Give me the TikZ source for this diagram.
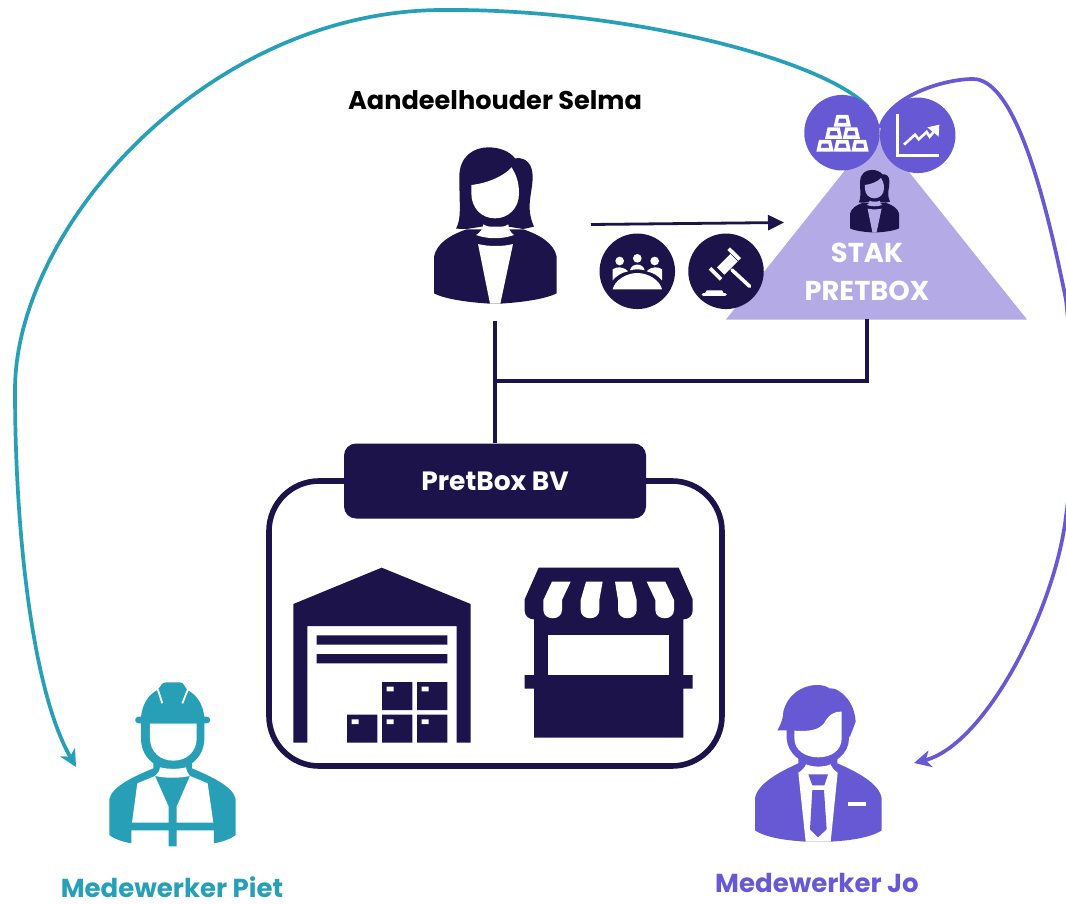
\documentclass[tikz,border=0pt]{standalone}
\usepackage{fontspec}
\setmainfont{Poppins}
\usetikzlibrary{arrows.meta}
\definecolor{navy}{HTML}{1B1349}
\definecolor{teal2}{HTML}{27A0B7}
\definecolor{violet2}{HTML}{6759D3}
\definecolor{lav}{HTML}{B4ABE6}
\newcommand{\selmaicon}[1]{%
  \fill[navy] (102,490) -- (102,380) .. controls (110,340) and (150,315) .. (200,298) -- (370,298) .. controls (420,315) and (462,340) .. (470,380) -- (470,490) .. controls (430,510) and (350,518) .. (300,521) -- (270,521) .. controls (220,518) and (140,510) .. (102,490) -- cycle;
  \fill[navy] (168,296) .. controls (185,265) and (178,230) .. (178,140) .. controls (178,80) and (220,52) .. (265,52) .. controls (300,52) and (330,65) .. (345,85) .. controls (380,80) and (398,105) .. (398,140) .. controls (398,190) and (375,230) .. (402,290) -- (370,297) -- (325,290) -- (245,290) -- (200,297) -- cycle;
  \fill[#1] (214,165) .. controls (260,160) and (310,140) .. (335,112) .. controls (345,130) and (357,150) .. (357,190) .. controls (357,235) and (325,265) .. (285,265) .. controls (245,265) and (214,235) .. (214,190) -- cycle;
  \fill[#1] (250,283) .. controls (270,296) and (305,296) .. (325,283) .. controls (326,298) and (332,308) .. (342,315) .. controls (305,328) and (265,328) .. (228,315) .. controls (240,308) and (248,298) .. (250,283) -- cycle;
  \fill[#1] (234,342) .. controls (265,350) and (310,350) .. (339,342) -- (301,521) -- (270,521) -- cycle;
}
\newcommand{\goldbar}[2]{%
  \fill[white,even odd rule] (#1+7,#2) -- (#1+43,#2) -- (#1+51,#2+35) -- (#1-1,#2+35) -- cycle
    (#1+15,#2+11) -- (#1+35,#2+11) -- (#1+38,#2+24) -- (#1+12,#2+24) -- cycle;
}
\tikzset{
  x=1pt,y=-1pt,
  dot/.style={circle,inner sep=0pt,minimum size=75.5pt},
  spot/.style={inner sep=0pt,minimum width=#1,minimum height=#1},
  caption/.style={font=\bfseries\fontsize{26}{30}\selectfont,inner sep=0pt},
  link/.style={navy,line width=4pt},
  curve/.style={line width=3.7pt,-{Stealth[length=17pt,width=17pt,inset=5pt]}},
}
\begin{document}
\begin{tikzpicture}
\useasboundingbox (0,0) rectangle (1066,904);
% arcs behind everything
\begin{scope}
\clip (0,0) rectangle (1066,904);
\coordinate (pietin) at (76,767);
\coordinate (joIn) at (914,763);
\coordinate (goldtop) at (868,107);
\coordinate (charttop) at (880,128);
\draw[curve,teal2] (goldtop) .. controls (822,58) and (620,8) .. (440,10) .. controls (206,12) and (15,228) .. (15,390) .. controls (15,530) and (32,690) .. (pietin);
\draw[curve,violet2] (charttop) .. controls (890,95) and (945,79) .. (973,79) .. controls (1010,79) and (1040,170) .. (1066,300) .. controls (1075,380) and (1075,450) .. (1066,516) .. controls (1055,610) and (985,745) .. (joIn);
\end{scope}
% triangle
\fill[lav] (726,319.5) -- (876.3,131) -- (1027,319.5) -- cycle;
\coordinate (stakbase) at (867,319);
% circles
\node[dot,fill=violet2] (gold) at (842,132.7) {};
\node[dot,fill=violet2] (chart) at (917.7,135.3) {};
\node[dot,fill=navy] (meet) at (637.3,271.3) {};
\node[dot,fill=navy] (gavel) at (726,271.3) {};
% gold bars
\begin{scope}[shift={(580,70)},scale=1/3]
\goldbar{710}{210}\goldbar{762}{210}\goldbar{815}{210}
\goldbar{736}{172}\goldbar{789}{172}
\goldbar{762}{135}
\end{scope}
% chart
\draw[white,line width=2.8pt] (897.5,114) -- (897.5,155.5) -- (939,155.5);
\begin{scope}[shift={(580,70)},scale=1/3]
\draw[white,line width=2.6pt] (972,224) -- (1005,194) -- (1016,208) -- (1040,186) -- (1049,200) -- (1066,180);
\fill[white] (1042,172) -- (1078,164) -- (1076,200) -- cycle;
\end{scope}
% meeting
\begin{scope}[shift={(598,232)},scale=1/3]
\fill[white] (65,87) circle[radius=13] (118,79) circle[radius=13] (170,87) circle[radius=13];
\fill[white] (44,172) .. controls (50,145) and (85,123) .. (118,123) .. controls (151,123) and (186,145) .. (192,172) -- cycle;
\fill[white] (44,145) -- (44,112) .. controls (55,104) and (75,102) .. (90,118) .. controls (70,122) and (55,132) .. (44,145) -- cycle;
\fill[white] (192,145) -- (192,112) .. controls (181,104) and (161,102) .. (146,118) .. controls (166,122) and (181,132) .. (192,145) -- cycle;
\fill[white] (96,115) .. controls (100,92) and (136,92) .. (140,115) .. controls (125,111) and (111,111) .. (96,115) -- cycle;
\end{scope}
% gavel
\begin{scope}[shift={(598,232)},scale=1/3]
\fill[white] (357,106) -- (397,66) -- (419,88) -- (379,128) -- cycle;
\fill[white] (388,54) -- (396,46) -- (429,78) -- (421,86) -- cycle;
\fill[white] (332,113) -- (340,105) -- (373,138) -- (365,146) -- cycle;
\draw[white,line width=3.6pt,line cap=round] (402,114) -- (455,163);
\fill[white] (326,175) -- (372,175) -- (378,185) -- (320,185) -- cycle;
\draw[white,line width=3.6pt,line cap=round] (316,188) -- (381,188);
\end{scope}
% small woman
\begin{scope}[shift={(836.4,163)},scale=0.13333]
\selmaicon{lav}
\end{scope}
\node[font=\bfseries\fontsize{27.3}{38}\selectfont,text=white,align=center,inner sep=0pt] (stak) at (867,271.5) {STAK\\PRETBOX};
% big woman
\begin{scope}[shift={(400,130)},scale=1/3]
\selmaicon{white}
\end{scope}
\node[spot=1pt] (selma) at (495,320) {};
\node[caption,text=black,font=\bfseries\fontsize{25.6}{30}\selectfont] (selmalabel) at (495,100) {Aandeelhouder Selma};
% arrow
\coordinate (votefrom) at (591,224.5);
\coordinate (voteto) at (784,222.5);
\draw[navy,line width=2.8pt,-{Stealth[length=16pt,width=15pt,inset=0pt]}] (votefrom) -- (voteto);
% box
\node[draw=navy,line width=5.6pt,rounded corners=50pt,minimum width=453pt,minimum height=285pt,inner sep=0pt,outer sep=0pt] (frame) at (495.5,623.5) {};
\node[fill=navy,text=white,rounded corners=12pt,minimum width=302pt,minimum height=75pt,inner sep=0pt,font=\bfseries\fontsize{26.5}{30}\selectfont] (pretbox) at (495,481) {\raisebox{-2pt}{PretBox BV}};
% connectors
\coordinate (joint) at (495,381);
\draw[link] (selma) -- (pretbox.north);
\draw[link,line join=miter] (joint) -| (stakbase);
% warehouse and shop
\begin{scope}[shift={(270,550)},scale=1/3]
\fill[navy] (70,162) -- (335,53) -- (602,162) -- (602,578) -- (560,578) -- (560,228) -- (112,228) -- (112,578) -- (70,578) -- cycle;
\fill[navy] (140,256) rectangle (532,284) (140,312) rectangle (532,340);
\fill[navy] (336,396) rectangle (427,480) (441,396) rectangle (532,480) (231,494) rectangle (322,578) (336,494) rectangle (427,578) (441,494) rectangle (532,578);
\fill[white] (350,410) rectangle (371,424) (455,410) rectangle (476,424) (245,508) rectangle (266,522) (350,508) rectangle (371,522) (455,508) rectangle (476,522);
\fill[navy] (806,53) -- (1226,53) -- (1268,148) -- (1268,182) .. controls (1268,198) and (1255,208) .. (1240,208) -- (1240,375) -- (1268,375) -- (1268,416) -- (1240,416) -- (1240,563) -- (792,563) -- (792,416) -- (764,416) -- (764,375) -- (792,375) -- (792,208) .. controls (777,208) and (764,198) .. (764,182) -- (764,148) -- cycle;
\fill[white] (834,256) rectangle (1198,375);
\fill[white] (846,95) -- (902,95) -- (876,150) -- (876,180) .. controls (876,213) and (820,213) .. (820,180) -- (820,150) -- cycle;
\fill[white] (948,95) -- (998,95) -- (988,150) -- (988,180) .. controls (988,213) and (932,213) .. (932,180) -- (932,150) -- cycle;
\fill[white] (1035,95) -- (1085,95) -- (1100,150) -- (1100,180) .. controls (1100,213) and (1044,213) .. (1044,180) -- (1044,150) -- cycle;
\fill[white] (1130,95) -- (1186,95) -- (1212,150) -- (1212,180) .. controls (1212,213) and (1156,213) .. (1156,180) -- (1156,150) -- cycle;
\end{scope}
% Piet
\begin{scope}[shift={(40,670)},scale=1/3]
\fill[teal2] (208,495) -- (208,388) .. controls (215,350) and (280,320) .. (340,295) -- (340,265) -- (456,265) -- (456,295) .. controls (515,320) and (580,350) .. (587,388) -- (587,495) .. controls (570,508) and (545,516) .. (522,520) -- (522,481) -- (410,481) -- (410,529) -- (386,529) -- (386,481) -- (274,481) -- (274,520) .. controls (250,516) and (225,508) .. (208,495) -- cycle;
\fill[teal2] (303,150) -- (493,150) -- (493,205) .. controls (493,260) and (450,298) .. (398,298) .. controls (345,298) and (303,260) .. (303,205) -- cycle;
\fill[white] (330,160) -- (470,160) -- (470,205) .. controls (470,245) and (440,272) .. (400,272) .. controls (360,272) and (330,245) .. (330,205) -- cycle;
\fill[teal2] (303,140) .. controls (308,100) and (325,75) .. (352,60) -- (362,48) .. controls (365,38) and (375,37) .. (385,37) -- (415,37) .. controls (425,37) and (432,40) .. (434,48) -- (442,60) .. controls (470,75) and (488,100) .. (493,140) -- (500,140) .. controls (514,140) and (514,160) .. (500,160) -- (296,160) .. controls (282,160) and (282,140) .. (296,140) -- cycle;
\draw[white,line width=1.8pt] (353,58) -- (367,100) (444,58) -- (427,100);
\fill[white] (292,340) -- (345,318) -- (386,410) -- (386,458) -- (276,458) -- cycle;
\fill[white] (503,340) -- (450,318) -- (410,410) -- (410,458) -- (520,458) -- cycle;
\fill[white] (360,292) .. controls (385,298) and (415,298) .. (438,292) .. controls (440,305) and (445,312) .. (450,318) .. controls (415,325) and (380,325) .. (345,318) .. controls (352,312) and (358,305) .. (360,292) -- cycle;
\end{scope}
\node[spot=1pt] (piet) at (172,780) {};
\node[caption,text=teal2] (pietlabel) at (172,887) {Medewerker Piet};
% Jo
\begin{scope}[shift={(700,670)},scale=1/3]
\fill[violet2] (165,481) -- (165,385) .. controls (172,340) and (240,305) .. (295,280) -- (295,255) -- (412,255) -- (412,280) .. controls (470,305) and (538,340) .. (545,385) -- (545,481) .. controls (510,505) and (440,512) .. (392,515) -- (317,515) .. controls (270,512) and (200,505) .. (165,481) -- cycle;
\fill[violet2] (260,170) -- (260,205) .. controls (262,250) and (305,285) .. (355,285) .. controls (405,285) and (447,250) .. (447,205) -- (447,170) -- cycle;
\fill[violet2] (232,181) .. controls (245,160) and (250,140) .. (250,125) .. controls (262,75) and (305,45) .. (352,45) .. controls (365,45) and (380,48) .. (388,55) .. controls (395,55) and (405,55) .. (415,62) .. controls (445,80) and (465,115) .. (467,155) -- (450,200) -- (260,181) -- cycle;
\fill[white] (283,182) .. controls (330,185) and (355,180) .. (372,160) .. controls (385,135) and (405,122) .. (425,125) -- (425,205) .. controls (425,240) and (395,262) .. (355,262) .. controls (315,262) and (283,240) .. (283,205) -- cycle;
\fill[white] (318,283) .. controls (340,292) and (370,292) .. (392,283) .. controls (395,292) and (403,302) .. (413,308) -- (392,515) -- (317,515) -- (295,308) .. controls (305,302) and (315,292) .. (318,283) -- cycle;
\fill[violet2] (325,313) -- (384,313) -- (373,346) -- (337,346) -- cycle;
\fill[violet2] (337,360) -- (372,360) -- (380,478) -- (354,502) -- (330,478) -- cycle;
\fill[white] (443,396) rectangle (497,408);
\end{scope}
\node[spot=1pt] (jo) at (818,770) {};
\node[caption,text=violet2] (jolabel) at (817,883) {Medewerker Jo};
\end{tikzpicture}
\end{document}
